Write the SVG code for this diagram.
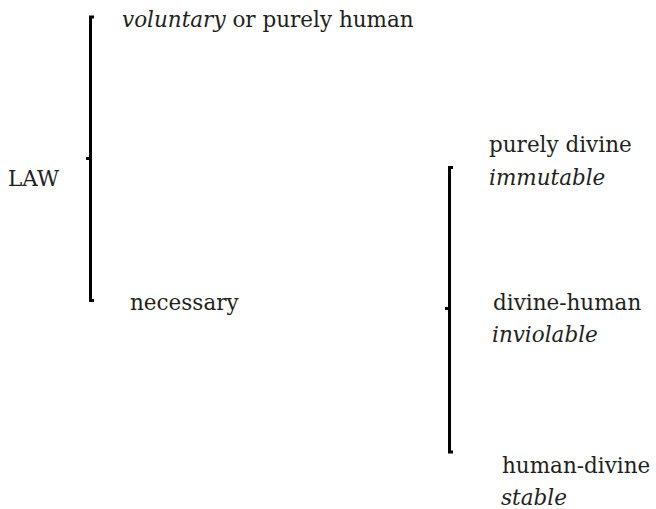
<svg xmlns="http://www.w3.org/2000/svg" width="656" height="509" viewBox="0 0 656 509">
<style>
text{font-family:"DejaVu Serif","Liberation Serif",serif;font-size:21.5px;fill:#231f20}
.i{font-style:italic}
.br{fill:none;stroke:#000;stroke-width:3;stroke-linejoin:miter;stroke-linecap:butt}
</style>
<rect width="656" height="509" fill="#fff"/>
<g id="connectors">
<path class="br" d="M94,17 H90.5 V300.5 H94"/>
<path class="br" d="M86,158.5 H90.5"/>
<path class="br" d="M453,167.5 H449.5 V452 H453"/>
<path class="br" d="M445,308.5 H449.5"/>
</g>
<g id="law"><text x="8" y="186">LAW</text></g>
<g id="voluntary"><text x="122" y="27"><tspan class="i">voluntary</tspan> or purely human</text></g>
<g id="necessary"><text x="130" y="310">necessary</text></g>
<g id="purely-divine"><text x="489" y="152">purely divine</text><text class="i" x="489" y="185">immutable</text></g>
<g id="divine-human"><text x="493" y="310">divine-human</text><text class="i" x="492" y="342">inviolable</text></g>
<g id="human-divine"><text x="502" y="473">human-divine</text><text class="i" x="501" y="505">stable</text></g>
</svg>
